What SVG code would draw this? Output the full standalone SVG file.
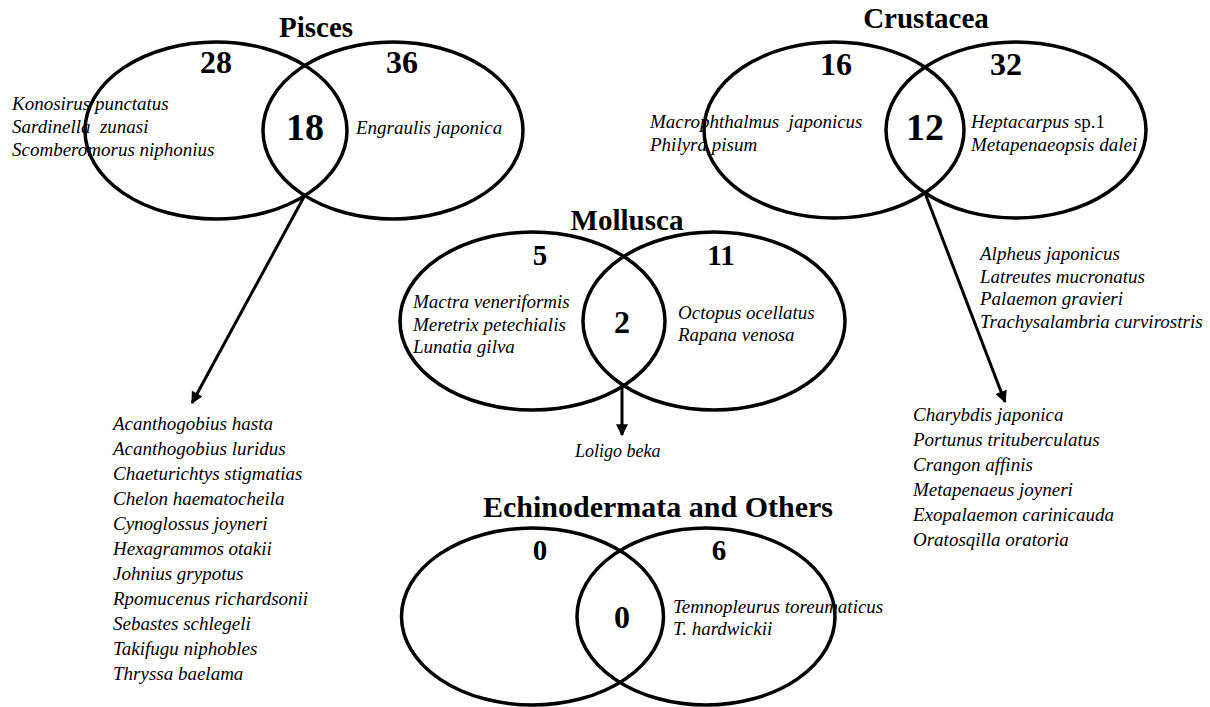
<svg xmlns="http://www.w3.org/2000/svg" width="1210" height="707" viewBox="0 0 1210 707">
<defs>
<style>
.e{fill:none;stroke:#000;stroke-width:3.5}
.t{font-family:"Liberation Serif","Times New Roman",serif;font-weight:bold;font-size:29px;text-anchor:middle;fill:#000}
.n{font-family:"Liberation Serif","Times New Roman",serif;font-weight:bold;font-size:32px;text-anchor:middle;fill:#000}
.m{font-family:"Liberation Serif","Times New Roman",serif;font-weight:bold;font-size:29px;text-anchor:middle;fill:#000}
.b{font-family:"Liberation Serif","Times New Roman",serif;font-weight:bold;font-size:38px;text-anchor:middle;fill:#000}
.s{font-family:"Liberation Serif","Times New Roman",serif;font-style:italic;font-size:19px;fill:#000}
.r{font-style:normal}
.c{stroke:#000;stroke-width:3;fill:none}
</style>
<marker id="ah" viewBox="0 0 10 10" refX="9" refY="5" markerWidth="4.5" markerHeight="4" orient="auto" markerUnits="strokeWidth">
<path d="M0,0 L10,5 L0,10 z" fill="#000"/>
</marker>
</defs>
<rect width="1210" height="707" fill="#fff"/>
<g id="pisces">
<text class="t" x="316" y="37">Pisces</text>
<ellipse class="e" cx="216" cy="130.5" rx="131" ry="88.5"/>
<ellipse class="e" cx="393" cy="130.5" rx="130" ry="88.5"/>
<text class="n" x="216" y="73">28</text>
<text class="n" x="402" y="73">36</text>
<text class="b" x="305" y="140">18</text>
<text class="s" x="12" y="110">Konosirus punctatus</text>
<text class="s" x="12" y="133" xml:space="preserve">Sardinella  zunasi</text>
<text class="s" x="12" y="156">Scomberomorus niphonius</text>
<text class="s" x="356" y="134">Engraulis japonica</text>
</g>
<g id="pisces-list">
<text class="s" x="113" y="430">Acanthogobius hasta</text>
<text class="s" x="113" y="455">Acanthogobius luridus</text>
<text class="s" x="113" y="480">Chaeturichtys stigmatias</text>
<text class="s" x="113" y="505">Chelon haematocheila</text>
<text class="s" x="113" y="530">Cynoglossus joyneri</text>
<text class="s" x="113" y="555">Hexagrammos otakii</text>
<text class="s" x="113" y="580">Johnius grypotus</text>
<text class="s" x="113" y="605">Rpomucenus richardsonii</text>
<text class="s" x="113" y="630">Sebastes schlegeli</text>
<text class="s" x="113" y="655">Takifugu niphobles</text>
<text class="s" x="113" y="680">Thryssa baelama</text>
</g>
<g id="crustacea">
<text class="t" x="926" y="28">Crustacea</text>
<ellipse class="e" cx="834" cy="130" rx="130" ry="88"/>
<ellipse class="e" cx="1016" cy="130" rx="130" ry="88"/>
<text class="n" x="836" y="75">16</text>
<text class="n" x="1006" y="75">32</text>
<text class="b" x="925" y="140">12</text>
<text class="s" x="650" y="128" xml:space="preserve">Macrophthalmus  japonicus</text>
<text class="s" x="650" y="151">Philyra pisum</text>
<text class="s" x="971" y="128">Heptacarpus<tspan class="r"> sp.1</tspan></text>
<text class="s" x="971" y="151">Metapenaeopsis dalei</text>
</g>
<g id="crustacea-list1">
<text class="s" x="980" y="260">Alpheus japonicus</text>
<text class="s" x="980" y="283">Latreutes mucronatus</text>
<text class="s" x="980" y="305">Palaemon gravieri</text>
<text class="s" x="980" y="328">Trachysalambria curvirostris</text>
</g>
<g id="crustacea-list2">
<text class="s" x="913" y="421">Charybdis japonica</text>
<text class="s" x="913" y="446">Portunus trituberculatus</text>
<text class="s" x="913" y="471">Crangon affinis</text>
<text class="s" x="913" y="496">Metapenaeus joyneri</text>
<text class="s" x="913" y="521">Exopalaemon carinicauda</text>
<text class="s" x="913" y="546">Oratosqilla oratoria</text>
</g>
<g id="mollusca">
<text class="t" x="627" y="230">Mollusca</text>
<ellipse class="e" cx="532.5" cy="321" rx="132.5" ry="89"/>
<ellipse class="e" cx="714" cy="321" rx="131" ry="89"/>
<text class="m" x="540" y="265">5</text>
<text class="m" x="721" y="265">11</text>
<text class="n" x="622" y="333">2</text>
<text class="s" x="413" y="308">Mactra veneriformis</text>
<text class="s" x="413" y="331">Meretrix petechialis</text>
<text class="s" x="413" y="353">Lunatia gilva</text>
<text class="s" x="678" y="319">Octopus ocellatus</text>
<text class="s" x="678" y="341">Rapana venosa</text>
</g>
<g id="mollusca-list">
<text class="s" x="575" y="457" style="font-size:18px">Loligo beka</text>
</g>
<g id="echinodermata">
<text class="t" x="658" y="517" style="font-size:30px">Echinodermata and Others</text>
<ellipse class="e" cx="532.5" cy="616.5" rx="131" ry="88.5"/>
<ellipse class="e" cx="706" cy="616.5" rx="129" ry="88.5"/>
<text class="m" x="540" y="560">0</text>
<text class="m" x="719" y="560">6</text>
<text class="n" x="622" y="628">0</text>
<text class="s" x="673" y="613">Temnopleurus toreumaticus</text>
<text class="s" x="673" y="635">T. hardwickii</text>
</g>
<g id="connectors">
<line class="c" x1="305" y1="195" x2="192" y2="403" marker-end="url(#ah)"/>
<line class="c" x1="925" y1="193" x2="1005" y2="402" marker-end="url(#ah)"/>
<line class="c" x1="622" y1="386" x2="622" y2="435" marker-end="url(#ah)"/>
</g>
</svg>
